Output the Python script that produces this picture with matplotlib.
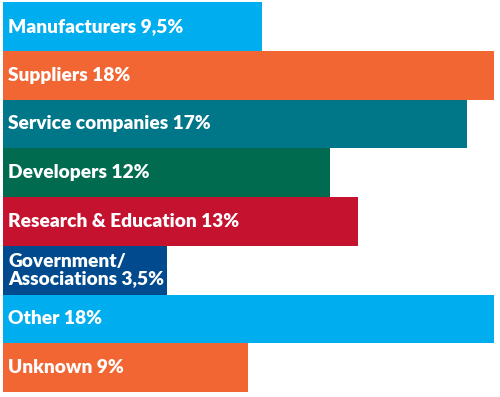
import matplotlib
matplotlib.use("Agg")
import matplotlib.pyplot as plt

# Data
labels = ["Manufacturers 9,5%", "Suppliers 18%", "Service companies 17%", "Developers 12%",
          "Research & Education 13%", "Government/\nAssociations 3,5%", "Other 18%", "Unknown 9%"]
shares = [9.5, 18, 17, 12, 13, 3.5, 18, 9]
# displayed bar lengths (the Government bar is drawn wider than its share)
bar_lengths = [9.5, 18, 17, 12, 13, 6, 18, 9]
colors = ["#00AEEF", "#F26633", "#007789", "#006B4F", "#C4122F", "#004A8D", "#00AEEF", "#F26633"]

fig = plt.figure(figsize=(5.0, 3.97), dpi=100)
ax = fig.add_axes([3/500, 1 - 392/397, 491/500, 390/397])
n = len(labels)
ys = list(range(n))
ax.barh(ys, bar_lengths, height=1.0, color=colors, edgecolor="none")
ax.set_xlim(0, 18)
ax.set_ylim(n - 0.5, -0.5)
for y, lab in zip(ys, labels):
    ax.text(0.2, y, lab, color="white", fontsize=13.8, fontweight="heavy",
            family=["Lato", "DejaVu Sans"], va="center", ha="left", linespacing=1.0)
ax.axis("off")
fig.savefig("out.png", dpi=100)
